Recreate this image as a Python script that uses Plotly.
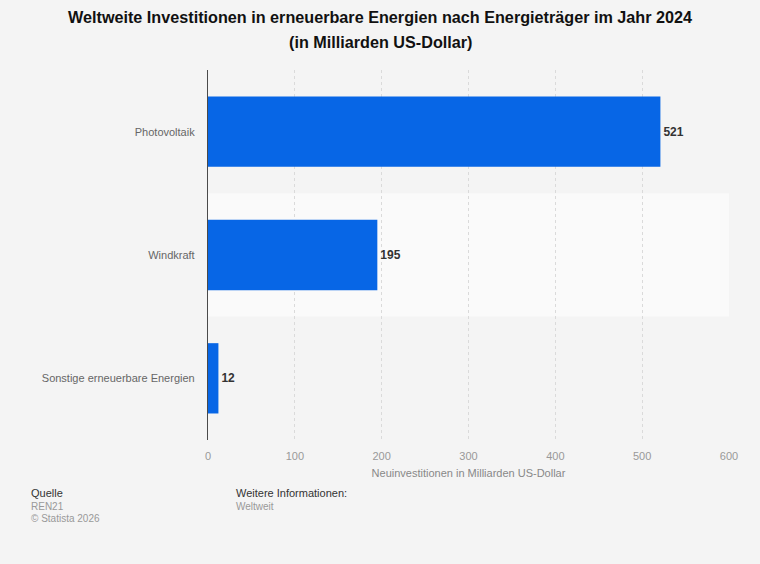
import plotly.graph_objects as go

categories = ["Photovoltaik", "Windkraft", "Sonstige erneuerbare Energien"]
values = [521, 195, 12]
tick_vals = [0, 100, 200, 300, 400, 500, 600]

BLUE = "#0766e6"
FONT = "Liberation Sans, Arial, sans-serif"

W, H = 760, 564
ML, MR, MT, MB = 208, 31, 70, 124

fig = go.Figure()
fig.add_trace(go.Bar(
    x=values, y=categories, orientation="h",
    marker=dict(color=BLUE, line=dict(width=0)),
    width=0.57,
    text=values, texttemplate="<b>%{text}</b>", textposition="outside",
    textfont=dict(family=FONT, size=12, color="#333333"),
    cliponaxis=False, hoverinfo="skip",
))

band_colors = ["#f4f4f4", "#fafafa", "#f4f4f4"]
shapes = []
for i, c in enumerate(band_colors):
    shapes.append(dict(type="rect", xref="x", yref="y", x0=0, x1=600,
                       y0=i - 0.5, y1=i + 0.5, fillcolor=c, line=dict(width=0),
                       layer="below"))


def px_ann(text, xpx, ypx, size, color, xanchor="left"):
    pw = W - ML - MR
    ph = H - MT - MB
    return dict(text=text, xref="paper", yref="paper",
                x=(xpx - ML) / pw, y=1 - (ypx - MT) / ph,
                xanchor=xanchor, yanchor="middle", showarrow=False,
                font=dict(family=FONT, size=size, color=color))


annotations = [
    px_ann("<b>Weltweite Investitionen in erneuerbare Energien nach Energieträger im Jahr 2024</b>",
           380, 17, 16.2, "#111111", "center"),
    px_ann("<b>(in Milliarden US-Dollar)</b>", 380, 42, 16.2, "#111111", "center"),
    px_ann("Quelle", 29, 493, 11, "#333333"),
    px_ann("REN21", 29, 506, 10, "#999999"),
    px_ann("© Statista 2026", 29, 518, 10, "#999999"),
    px_ann("Weitere Informationen:", 234, 493, 11, "#333333"),
    px_ann("Weltweit", 234, 506, 10, "#999999"),
]

fig.update_layout(
    width=W, height=H,
    paper_bgcolor="#f4f4f4", plot_bgcolor="#f4f4f4",
    margin=dict(l=ML, r=MR, t=MT, b=MB),
    showlegend=False,
    shapes=shapes,
    annotations=annotations,
    font=dict(family=FONT),
    xaxis=dict(
        range=[0, 600], tickvals=tick_vals, ticks="",
        showgrid=True, gridcolor="#dadada", griddash="dot", gridwidth=1,
        zeroline=False, showline=False, ticklabelstandoff=8,
        tickfont=dict(family=FONT, size=11, color="#999999"),
        title=dict(text="Neuinvestitionen in Milliarden US-Dollar", standoff=8,
                   font=dict(family=FONT, size=11, color="#888888")),
    ),
    yaxis=dict(
        categoryorder="array", categoryarray=categories, autorange="reversed",
        showgrid=False, ticks="", ticklabelstandoff=10,
        showline=True, linecolor="#4a4a4a", linewidth=1.2,
        tickfont=dict(family=FONT, size=11, color="#666666"),
    ),
)

fig.write_html(
    "out.html",
    config={"displayModeBar": False},
    post_script="document.body.style.margin='0';document.body.style.padding='0';document.body.style.background='#f4f4f4';",
)
